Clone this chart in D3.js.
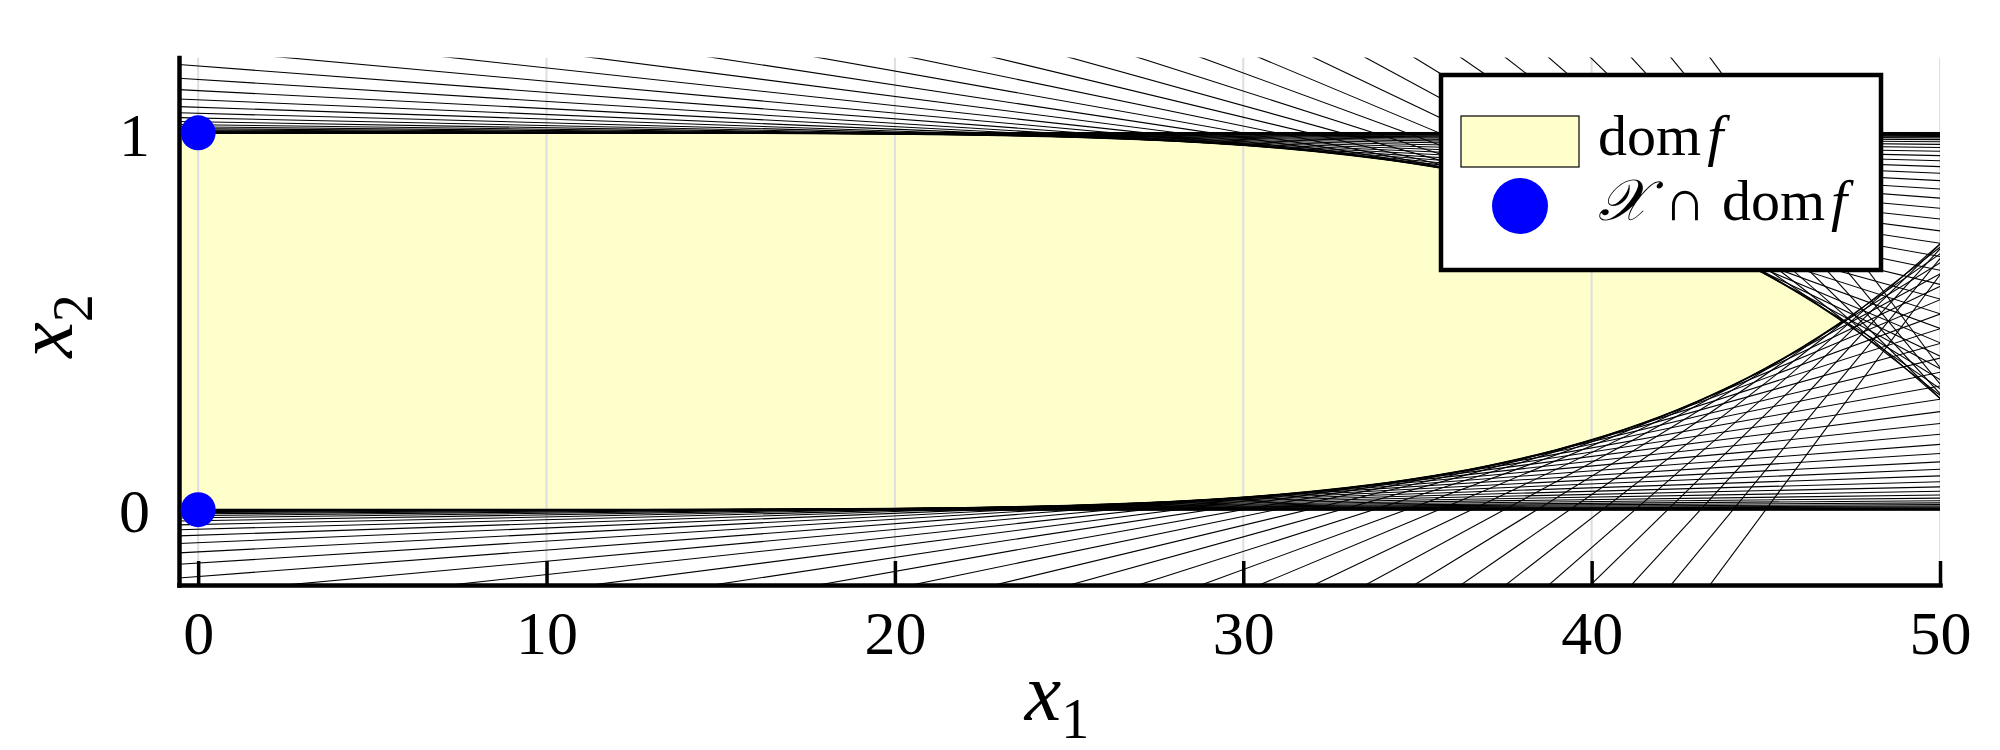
<!DOCTYPE html>
<html>
<head>
<meta charset="utf-8">
<script src="https://cdn.jsdelivr.net/npm/d3@7"></script>
<style>
  body { margin: 0; background: #fff; }
  svg text { font-family: "Liberation Serif", "DejaVu Serif", serif; fill: #000; }
</style>
</head>
<body>
<svg id="chart" width="2000" height="750"></svg>
<script>
// ticks
const xTicks = [0, 10, 20, 30, 40, 50]
const yTicks = [0, 1]

// boundary of dom f (lower and upper edge)
const boundaryX = [-0.55, 0, 10, 15, 20, 21, 22, 23, 24, 25, 26, 27, 28, 29, 30, 31, 32, 33, 34, 35, 36, 37, 38, 39, 40, 41, 42, 43, 44, 45, 46, 47, 47.2]
const lowerEdge = [0, 0, 0.0000, 0.0005, 0.0029, 0.0039, 0.0051, 0.0067, 0.0086, 0.0111, 0.0140, 0.0175, 0.0218, 0.0269, 0.0330, 0.0401, 0.0486, 0.0584, 0.0699, 0.0831, 0.0984, 0.1160, 0.1362, 0.1591, 0.1852, 0.2147, 0.2480, 0.2858, 0.3280, 0.3755, 0.4285, 0.4874, 0.5000]
const upperEdge = [1, 1, 1.0000, 0.9995, 0.9971, 0.9961, 0.9949, 0.9933, 0.9914, 0.9889, 0.9860, 0.9825, 0.9782, 0.9731, 0.9670, 0.9599, 0.9514, 0.9416, 0.9301, 0.9169, 0.9016, 0.8840, 0.8638, 0.8409, 0.8148, 0.7853, 0.7520, 0.7142, 0.6720, 0.6245, 0.5715, 0.5126, 0.5000]

// cutting lines: value of x2 at x1 = 0 and at x1 = 50
const lowerLinesAt0 = [0, 0, 0, 0, 0, 0, 0, -0.0001, -0.0001, -0.0002, -0.0005, -0.0008, -0.0014, -0.0022, -0.0035, -0.0052, -0.0077, -0.0111, -0.0156, -0.0216, -0.0293, -0.0393, -0.0520, -0.0679, -0.0876, -0.1120, -0.1416, -0.1775, -0.2210, -0.2727, -0.3342, -0.4069, -0.4920, -0.5920, -0.7075, -0.8420, -0.9975, -1.1760, -1.3803, -1.6123, -1.8775, -2.1765, -2.5150, -2.8975, -3.3250, -3.8050, -4.3420, -4.9400, -5.6075]
const lowerLinesAt50 = [0, 0, 0, 0, 0, 0.0001, 0.0002, 0.0004, 0.0007, 0.0012, 0.0020, 0.0031, 0.0047, 0.0069, 0.0097, 0.0133, 0.0180, 0.0237, 0.0306, 0.0389, 0.0489, 0.0605, 0.0740, 0.0895, 0.1071, 0.1269, 0.1489, 0.1731, 0.2000, 0.2288, 0.2600, 0.2931, 0.3280, 0.3648, 0.4023, 0.4410, 0.4802, 0.5191, 0.5571, 0.5927, 0.6259, 0.6547, 0.6786, 0.6963, 0.7053, 0.7047, 0.6920, 0.6660, 0.6231]
const upperLinesAt0 = [1, 1, 1, 1, 1, 1, 1, 1.0001, 1.0001, 1.0002, 1.0005, 1.0008, 1.0014, 1.0022, 1.0035, 1.0052, 1.0077, 1.0111, 1.0156, 1.0216, 1.0293, 1.0393, 1.0520, 1.0679, 1.0876, 1.1120, 1.1416, 1.1775, 1.2210, 1.2727, 1.3342, 1.4069, 1.4920, 1.5920, 1.7075, 1.8420, 1.9975, 2.1760, 2.3803, 2.6123, 2.8775, 3.1765, 3.5150, 3.8975, 4.3250, 4.8050, 5.3420, 5.9400, 6.6075]
const upperLinesAt50 = [1, 1, 1, 1, 1, 0.9999, 0.9998, 0.9996, 0.9993, 0.9988, 0.9980, 0.9969, 0.9953, 0.9931, 0.9903, 0.9867, 0.9820, 0.9763, 0.9694, 0.9611, 0.9511, 0.9395, 0.9260, 0.9105, 0.8929, 0.8731, 0.8511, 0.8269, 0.8000, 0.7712, 0.7400, 0.7069, 0.6720, 0.6352, 0.5977, 0.5590, 0.5198, 0.4809, 0.4429, 0.4073, 0.3741, 0.3453, 0.3214, 0.3037, 0.2947, 0.2953, 0.3080, 0.3340, 0.3769]

// X ∩ dom f
const pointsX = [0, 0]
const pointsY = [0, 1]

const svg = d3.select('#chart')

const x = d3.scaleLinear().domain([-0.55, 50]).range([179, 1940])
const y = d3.scaleLinear().domain([-0.2, 1.2]).range([585, 57.5])

svg.append('defs').append('clipPath').attr('id', 'plotclip')
    .append('rect')
    .attr('x', x(-0.55)).attr('y', y(1.2))
    .attr('width', x(50) - x(-0.55)).attr('height', y(-0.2) - y(1.2))

const plot = svg.append('g').attr('clip-path', 'url(#plotclip)')

// yellow domain
const area = d3.area()
    .x((d, i) => x(boundaryX[i]))
    .y0((d, i) => y(lowerEdge[i]))
    .y1((d, i) => y(upperEdge[i]))
    .curve(d3.curveMonotoneX)

plot.append('path').datum(boundaryX)
    .attr('d', area)
    .attr('fill', '#ffffcc')

// grid
plot.selectAll('.vgrid').data(xTicks).enter().append('line')
    .attr('class', 'vgrid')
    .attr('x1', d => x(d)).attr('x2', d => x(d))
    .attr('y1', y(-0.2)).attr('y2', y(1.2))
    .attr('stroke', '#dedede').attr('stroke-width', 2)
plot.selectAll('.hgrid').data(yTicks).enter().append('line')
    .attr('class', 'hgrid')
    .attr('x1', x(-0.55)).attr('x2', x(50))
    .attr('y1', d => y(d)).attr('y2', d => y(d))
    .attr('stroke', '#dedede').attr('stroke-width', 2)

// the cutting lines
const yAt = (a, b, xv) => a + (b - a) * xv / 50
function drawLines(at0, at50, cls) {
    plot.selectAll('.' + cls).data(at0).enter().append('line')
        .attr('class', cls)
        .attr('x1', x(-1)).attr('y1', (d, i) => y(yAt(d, at50[i], -1)))
        .attr('x2', x(51)).attr('y2', (d, i) => y(yAt(d, at50[i], 51)))
        .attr('stroke', '#000').attr('stroke-width', 1.1)
}
drawLines(lowerLinesAt0, lowerLinesAt50, 'lowline')
drawLines(upperLinesAt0, upperLinesAt50, 'upline')

// edge of the domain
const edgeLow = d3.line().x((d, i) => x(boundaryX[i])).y((d, i) => y(lowerEdge[i])).curve(d3.curveMonotoneX)
const edgeHigh = d3.line().x((d, i) => x(boundaryX[i])).y((d, i) => y(upperEdge[i])).curve(d3.curveMonotoneX)
plot.append('path').datum(boundaryX).attr('d', edgeLow)
    .attr('fill', 'none').attr('stroke', '#000').attr('stroke-width', 1.6)
plot.append('path').datum(boundaryX).attr('d', edgeHigh)
    .attr('fill', 'none').attr('stroke', '#000').attr('stroke-width', 1.6)

// axes
const xAxis = d3.axisBottom(x).tickValues(xTicks).tickFormat(d3.format('d'))
    .tickSizeInner(-24).tickSizeOuter(0).tickPadding(25)
const yAxis = d3.axisLeft(y).tickValues(yTicks).tickFormat(d3.format('d'))
    .tickSizeInner(-24).tickSizeOuter(0).tickPadding(29)

const gx = svg.append('g').attr('transform', 'translate(0,585)').call(xAxis)
const gy = svg.append('g').attr('transform', 'translate(179,0)').call(yAxis)

;[gx, gy].forEach(g => {
    g.select('.domain').attr('stroke', '#000').attr('stroke-width', 4.5).attr('stroke-linecap', 'square')
    g.selectAll('.tick line').attr('stroke', '#000').attr('stroke-width', 3.5)
    g.selectAll('.tick text')
        .attr('font-family', '"Liberation Serif", serif')
        .attr('font-size', 62)
        .attr('fill', '#000')
})
gy.selectAll('.tick text').attr('dy', '0.36em')

// blue points
svg.selectAll('.pt').data(pointsX).enter().append('circle')
    .attr('class', 'pt')
    .attr('cx', d => x(d)).attr('cy', (d, i) => y(pointsY[i]))
    .attr('r', 17.5)
    .attr('fill', '#0000ff')

// axis labels
const xl = svg.append('text').attr('x', 1057).attr('y', 720).attr('text-anchor', 'middle')
xl.append('tspan').attr('font-style', 'italic').attr('font-size', 82).text('x')
xl.append('tspan').attr('font-size', 56).attr('dy', 18).text('1')

const yl = svg.append('text').attr('transform', 'translate(72,326) rotate(-90)').attr('text-anchor', 'middle')
yl.append('tspan').attr('font-style', 'italic').attr('font-size', 80).text('x')
yl.append('tspan').attr('font-size', 56).attr('dy', 20).text('2')

// legend
const lg = svg.append('g')
lg.append('rect')
    .attr('x', 1441).attr('y', 75).attr('width', 440).attr('height', 195)
    .attr('fill', '#fff').attr('stroke', '#000').attr('stroke-width', 4.5)
lg.append('rect')
    .attr('x', 1461).attr('y', 116).attr('width', 118).attr('height', 51)
    .attr('fill', '#ffffcc').attr('stroke', '#000').attr('stroke-width', 1.2)
lg.append('circle').attr('cx', 1520).attr('cy', 206).attr('r', 28).attr('fill', '#0000ff')

const t1 = lg.append('text').attr('x', 1598).attr('y', 155).attr('font-size', 58)
t1.append('tspan').text('dom')
t1.append('tspan').attr('font-style', 'italic').attr('dx', 6).text('f')

const t2 = lg.append('text').attr('x', 1598).attr('y', 220).attr('font-size', 58)
t2.append('tspan').attr('font-style', 'italic').text('𝒳')
t2.append('tspan').attr('dx', 16).text('∩')
t2.append('tspan').attr('dx', 16).text('dom')
t2.append('tspan').attr('font-style', 'italic').attr('dx', 6).text('f')
</script>
</body>
</html>
